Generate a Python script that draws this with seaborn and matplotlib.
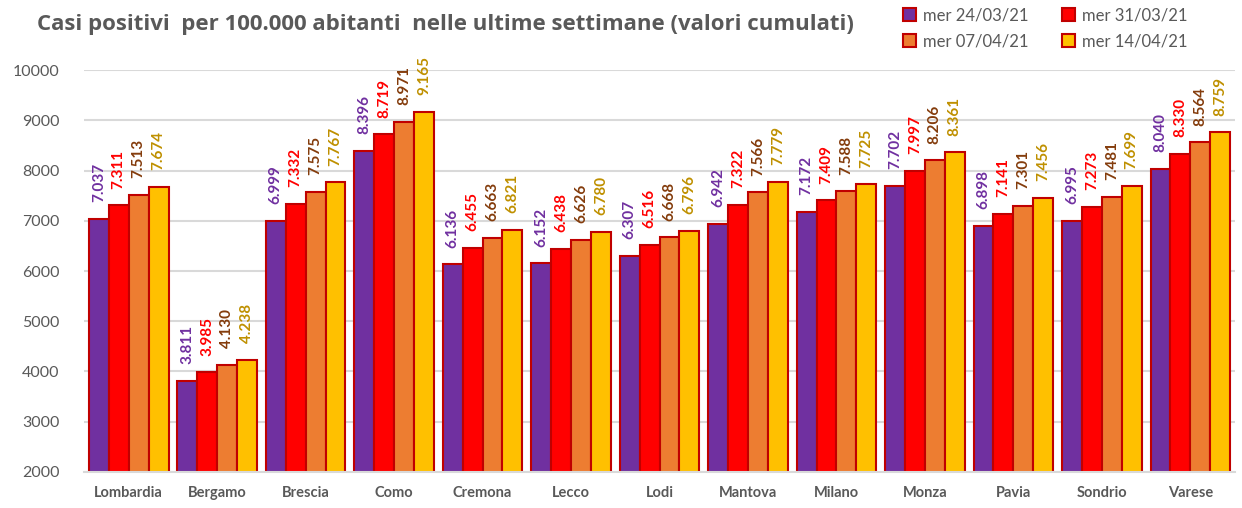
import pandas as pd
import matplotlib.pyplot as plt
import seaborn as sns

province = ['Lombardia', 'Bergamo', 'Brescia', 'Como', 'Cremona', 'Lecco', 'Lodi',
            'Mantova', 'Milano', 'Monza', 'Pavia', 'Sondrio', 'Varese']
dates = ['mer 24/03/21', 'mer 31/03/21', 'mer 07/04/21', 'mer 14/04/21']
v_2403 = [7037, 3811, 6999, 8396, 6136, 6152, 6307, 6942, 7172, 7702, 6898, 6995, 8040]
v_3103 = [7311, 3985, 7332, 8719, 6455, 6438, 6516, 7322, 7409, 7997, 7141, 7273, 8330]
v_0704 = [7513, 4130, 7575, 8971, 6663, 6626, 6668, 7566, 7588, 8206, 7301, 7481, 8564]
v_1404 = [7674, 4238, 7767, 9165, 6821, 6780, 6796, 7779, 7725, 8361, 7456, 7699, 8759]

bar_colors = ['#7030A0', '#FF0000', '#ED7D31', '#FFC000']
label_colors = ['#7030A0', '#FF0000', '#843C0C', '#BF9000']

rows = []
for d, vals in zip(dates, [v_2403, v_3103, v_0704, v_1404]):
    for p, v in zip(province, vals):
        rows.append({'provincia': p, 'data': d, 'casi': v})
df = pd.DataFrame(rows)

sns.set_style('white')
plt.rcParams['font.family'] = ['Lato', 'DejaVu Sans']

fig = plt.figure(figsize=(12.42, 5.08), dpi=100)
ax = fig.add_axes([0.068, 0.071, 0.926, 0.791])

sns.barplot(data=df, x='provincia', y='casi', hue='data', hue_order=dates,
            order=province, palette=bar_colors, saturation=1, width=0.9, gap=0,
            edgecolor='#C00000', linewidth=1.5, ax=ax, legend=True)

for cont, col in zip(ax.containers, label_colors):
    labs = [f'{int(b.get_height()):,}'.replace(',', '.') for b in cont]
    ax.bar_label(cont, labels=labs, rotation=90, padding=12, color=col,
                 fontsize=11, fontweight='bold', clip_on=False)

ax.set_ylim(2000, 10000)
ax.set_yticks(range(2000, 10001, 1000))
ax.yaxis.grid(True, color='#D9D9D9', linewidth=1.5)
ax.set_axisbelow(True)
for s in ['top', 'right', 'left']:
    ax.spines[s].set_visible(False)
ax.spines['bottom'].set_color('#D9D9D9')
ax.spines['bottom'].set_linewidth(1.5)
ax.set_xlabel('')
ax.set_ylabel('')
ax.tick_params(axis='y', labelsize=11.5, labelcolor='#595959', length=0, pad=18)
ax.tick_params(axis='x', labelsize=10.5, labelcolor='#595959', length=0, pad=10)
for t in ax.get_xticklabels():
    t.set_fontweight('bold')

handles, labels = ax.get_legend_handles_labels()
ax.legend_.remove()
order = [0, 2, 1, 3]
fig.legend([handles[i] for i in order], [labels[i] for i in order], ncol=2,
           loc='upper right', bbox_to_anchor=(0.968, 1.015),
           frameon=False, fontsize=12, labelcolor='#595959', handlelength=0.8,
           handleheight=0.8, columnspacing=2.0, handletextpad=0.4, labelspacing=0.6)

fig.text(0.03, 0.952, 'Casi positivi  per 100.000 abitanti  nelle ultime settimane (valori cumulati)',
         fontsize=16, fontweight='bold', color='#595959', va='center',
         family=['Open Sans', 'DejaVu Sans'])

fig.savefig('out.png', dpi=100)
